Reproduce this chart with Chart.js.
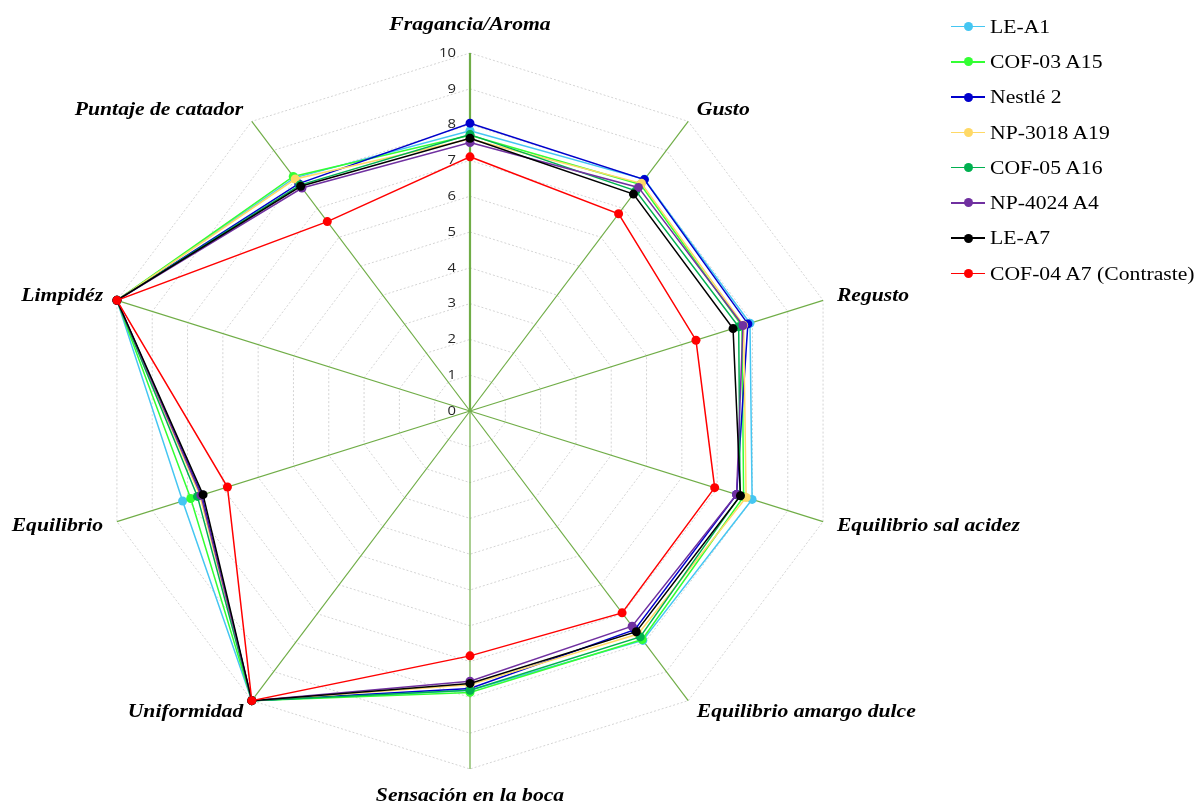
<!DOCTYPE html>
<html lang="es">
<head>
<meta charset="utf-8">
<title>Evaluación sensorial</title>
<script src="https://cdn.jsdelivr.net/npm/chart.js@4.4.1/dist/chart.umd.min.js"></script>
<style>
  html, body { margin: 0; padding: 0; background: #ffffff; }
  #wrap { position: relative; width: 1198px; height: 806px; overflow: hidden; }
  #chart { position: absolute; left: 0; top: 0; }
  #legend {
    position: absolute; left: 951px; top: 9px;
    font-family: "Liberation Serif", "Times New Roman", serif;
    font-size: 19px; color: #000;
  }
  #legend .item { height: 35.3px; display: flex; align-items: center; white-space: nowrap; }
  #legend .key { position: relative; width: 34px; height: 10px; margin-right: 5px; flex: none; }
  #legend .key .ln { position: absolute; left: 0; right: 0; top: 4px; height: 1.6px; }
  #legend .key .dt { position: absolute; left: 12.5px; top: 0.3px; width: 9px; height: 9px; border-radius: 50%; }
  #legend .txt { display: inline-block; transform: scaleX(1.14); transform-origin: left center; }
</style>
</head>
<body>
<div id="wrap">
  <canvas id="chart" width="1198" height="806"></canvas>
  <div id="legend"></div>
</div>
<script>
// Sensory attributes (one spoke each, clockwise from the top)
const categories = [
  'Fragancia/Aroma', 'Gusto', 'Regusto', 'Equilibrio sal acidez',
  'Equilibrio amargo dulce', 'Sensación en la boca', 'Uniformidad',
  'Equilibrio', 'Limpidéz', 'Puntaje de catador'
];

// Scale tick labels
const tickLabels = ['0', '1', '2', '3', '4', '5', '6', '7', '8', '9', '10'];

// Sample names and colours
const seriesNames = [
  'LE-A1', 'COF-03 A15', 'Nestlé 2', 'NP-3018 A19',
  'COF-05 A16', 'NP-4024 A4', 'LE-A7', 'COF-04 A7 (Contraste)'
];
const seriesColors = [
  '#45c6f2', '#33ff33', '#0000cc', '#ffd966',
  '#00b050', '#7030a0', '#000000', '#ff0000'
];

// Scores per sample, in the order of the categories
const leA1      = [7.83, 8.00, 7.93, 7.99, 7.92, 7.80, 10, 8.14, 10, 8.05];
const cof03A15  = [7.70, 7.82, 7.70, 7.75, 7.89, 7.86, 10, 7.91, 10, 8.10];
const nestle2   = [8.04, 7.99, 7.87, 7.55, 7.55, 7.75, 10, 7.60, 10, 7.85];
const np3018A19 = [7.60, 7.86, 7.75, 7.82, 7.70, 7.65, 10, 7.65, 10, 8.01];
const cof05A16  = [7.72, 7.60, 7.61, 7.65, 7.80, 7.80, 10, 7.72, 10, 7.80];
const np4024A4  = [7.50, 7.72, 7.73, 7.55, 7.43, 7.55, 10, 7.62, 10, 7.70];
const leA7      = [7.62, 7.49, 7.45, 7.66, 7.62, 7.61, 10, 7.56, 10, 7.76];
const cof04A7   = [7.10, 6.81, 6.40, 6.93, 6.97, 6.84, 10, 6.87, 10, 6.54];

const seriesValues = [leA1, cof03A15, nestle2, np3018A19, cof05A16, np4024A4, leA7, cof04A7];

// The web is drawn slightly wider than tall; text is set a little wide too
const STRETCH_X = 1.037;
const TEXT_STRETCH = 1.14;

class StretchedRadialScale extends Chart.RadialLinearScale {
  getPointPosition(index, distanceFromCenter, additionalAngle) {
    const p = super.getPointPosition(index, distanceFromCenter, additionalAngle);
    return { x: this.xCenter + (p.x - this.xCenter) * STRETCH_X, y: p.y, angle: p.angle };
  }
  // Tick values sit just left of the vertical spoke
  drawLabels() {
    const tickOpts = this.options.ticks;
    if (!tickOpts.display) return;
    const ctx = this.ctx;
    const f = tickOpts.font;
    ctx.save();
    ctx.font = `${f.size}px ${f.family}`;
    ctx.fillStyle = tickOpts.color;
    ctx.textAlign = 'right';
    ctx.textBaseline = 'middle';
    this.ticks.forEach((tick) => {
      const d = this.getDistanceFromCenterForValue(tick.value);
      ctx.save();
      ctx.translate(this.xCenter - 14, this.yCenter - d);
      ctx.scale(1.1, 1);
      ctx.fillText(tick.label, 0, 0);
      ctx.restore();
    });
    ctx.restore();
  }
}
StretchedRadialScale.id = 'stretchedRadial';
Chart.register(StretchedRadialScale);

// Attribute names placed outside the tip of each spoke
const axisLabelPlugin = {
  id: 'axisLabels',
  afterDraw(chart) {
    const scale = chart.scales.r;
    const ctx = chart.ctx;
    ctx.save();
    ctx.font = 'italic bold 19px "Liberation Serif", "Times New Roman", serif';
    ctx.fillStyle = '#000000';
    ctx.textBaseline = 'middle';
    chart.data.labels.forEach((label, i) => {
      const p = scale.getPointPosition(i, scale.drawingArea + 14);
      const dx = p.x - scale.xCenter;
      let y = p.y;
      if (Math.abs(dx) < 1) {
        ctx.textAlign = 'center';
        y += (p.y < scale.yCenter) ? -14 : 13;
      } else {
        ctx.textAlign = dx > 0 ? 'left' : 'right';
      }
      ctx.save();
      ctx.translate(p.x, y);
      ctx.scale(TEXT_STRETCH, 1);
      ctx.fillText(label, 0, 0);
      ctx.restore();
    });
    ctx.restore();
  }
};

const datasets = seriesNames.map((name, i) => ({
  label: name,
  data: seriesValues[i],
  borderColor: seriesColors[i],
  backgroundColor: seriesColors[i],
  pointBackgroundColor: seriesColors[i],
  pointBorderColor: seriesColors[i],
  borderWidth: 1.5,
  pointRadius: 4.5,
  pointBorderWidth: 0,
  fill: false,
  tension: 0,
  clip: false,
  order: seriesNames.length - i
}));

new Chart(document.getElementById('chart'), {
  type: 'radar',
  data: { labels: categories, datasets },
  plugins: [axisLabelPlugin],
  options: {
    responsive: false,
    animation: false,
    events: [],
    layout: { padding: { left: 104, right: 362, top: 46, bottom: 29 } },
    plugins: { legend: { display: false }, tooltip: { enabled: false } },
    scales: {
      r: {
        type: 'stretchedRadial',
        min: 0,
        max: 10,
        ticks: {
          stepSize: 1,
          display: true,
          showLabelBackdrop: false,
          backdropPadding: 0,
          color: '#262626',
          font: { family: '"Open Sans", "Liberation Sans", sans-serif', size: 13.5 },
          callback: (v) => tickLabels[v]
        },
        grid: { color: '#d4d4d4', lineWidth: 1, borderDash: [2, 2] },
        border: { dash: [2, 2] },
        angleLines: {
          color: '#70ad47',
          lineWidth: (ctx) => (ctx.index === 0 ? 2.2 : 1.2)
        },
        pointLabels: { display: false }
      }
    }
  }
});

// Legend: line with a marker, then the sample name
const legendEl = document.getElementById('legend');
seriesNames.forEach((name, i) => {
  const item = document.createElement('div');
  item.className = 'item';
  const key = document.createElement('span');
  key.className = 'key';
  const ln = document.createElement('span');
  ln.className = 'ln';
  ln.style.background = seriesColors[i];
  const dt = document.createElement('span');
  dt.className = 'dt';
  dt.style.background = seriesColors[i];
  key.appendChild(ln);
  key.appendChild(dt);
  const txt = document.createElement('span');
  txt.className = 'txt';
  txt.textContent = name;
  item.appendChild(key);
  item.appendChild(txt);
  legendEl.appendChild(item);
});
</script>
</body>
</html>
